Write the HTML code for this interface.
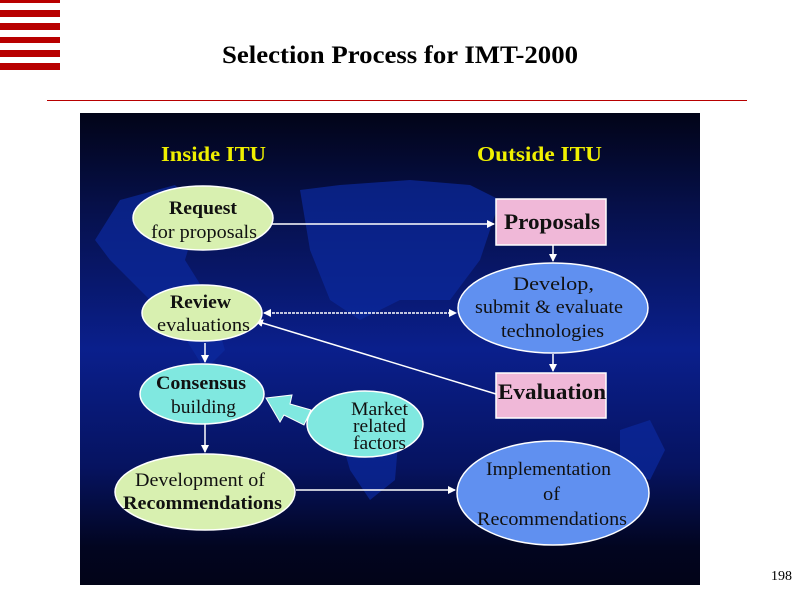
<!DOCTYPE html>
<html><head><style>
body{margin:0;width:800px;height:600px;background:#fff;position:relative;overflow:hidden;font-family:"Liberation Serif",serif}
</style></head><body>
<svg width="800" height="600" style="position:absolute;left:0;top:0" font-family="Liberation Serif, serif">
<defs>
<linearGradient id="bg" x1="0" y1="0" x2="0" y2="1">
<stop offset="0" stop-color="#020418"/>
<stop offset="0.2" stop-color="#06104a"/>
<stop offset="0.5" stop-color="#0a1f8c"/>
<stop offset="0.75" stop-color="#061360"/>
<stop offset="0.92" stop-color="#020520"/>
<stop offset="1" stop-color="#020418"/>
</linearGradient>
<marker id="ah" markerWidth="8" markerHeight="8" refX="7" refY="4" orient="auto" markerUnits="userSpaceOnUse">
<path d="M0,0 L8,4 L0,8 z" fill="#fff"/></marker>
<marker id="ahs" markerWidth="8" markerHeight="8" refX="1" refY="4" orient="auto" markerUnits="userSpaceOnUse">
<path d="M8,0 L0,4 L8,8 z" fill="#fff"/></marker>
</defs>
<g fill="#b80000">
<rect x="0" y="0" width="60" height="3"/><rect x="0" y="10" width="60" height="7"/>
<rect x="0" y="23" width="60" height="7"/><rect x="0" y="37" width="60" height="6"/>
<rect x="0" y="50" width="60" height="7"/><rect x="0" y="63" width="60" height="7"/>
</g>
<text x="222" y="63" font-size="25" font-weight="bold" textLength="356" lengthAdjust="spacingAndGlyphs">Selection Process for IMT-2000</text>
<rect x="47" y="100" width="700" height="1" fill="#b80000"/>
<text x="792" y="580" text-anchor="end" font-size="14">198</text>

<rect x="80" y="113" width="620" height="472" fill="url(#bg)"/>
<g fill="#0c2a9e" opacity="0.7">
<path d="M95,240 L120,200 L175,185 L200,210 L185,260 L210,300 L225,350 L205,370 L180,330 L150,300 L110,260 z"/>
<path d="M300,190 L340,185 L410,180 L470,185 L500,200 L480,260 L450,300 L400,300 L360,320 L330,300 L310,250 z"/>
<path d="M330,400 L370,390 L400,420 L395,480 L370,500 L350,470 z"/>
<path d="M620,430 L650,420 L665,450 L650,480 L620,470 z"/>
</g>
<text x="161" y="161" font-size="21" font-weight="bold" fill="#f0f000" textLength="105" lengthAdjust="spacingAndGlyphs">Inside ITU</text>
<text x="477" y="161" font-size="21" font-weight="bold" fill="#f0f000" textLength="125" lengthAdjust="spacingAndGlyphs">Outside ITU</text>

<g stroke="#fff" stroke-width="1.5" fill="none">
<line x1="272" y1="224" x2="494" y2="224" marker-end="url(#ah)"/>
<line x1="553" y1="245" x2="553" y2="261" marker-end="url(#ah)"/>
<line x1="264" y1="313" x2="456" y2="313" stroke-dasharray="3,1" marker-end="url(#ah)" marker-start="url(#ahs)"/>
<line x1="496" y1="394" x2="256" y2="321" marker-end="url(#ah)"/>
<line x1="553" y1="354" x2="553" y2="371" marker-end="url(#ah)"/>
<line x1="205" y1="343" x2="205" y2="362" marker-end="url(#ah)"/>
<line x1="205" y1="424" x2="205" y2="452" marker-end="url(#ah)"/>
<line x1="296" y1="490" x2="455" y2="490" marker-end="url(#ah)"/>
</g>
<polygon points="266,398 292,395 290,404 311,410 304,425 284,415 280,422" fill="#80e8e0" stroke="#fff" stroke-width="1"/>

<g stroke="#fff" stroke-width="1.5">
<ellipse cx="203" cy="218" rx="70" ry="32" fill="#d8f0b0"/>
<rect x="496" y="199" width="110" height="46" fill="#f0b8d8"/>
<ellipse cx="553" cy="308" rx="95" ry="45" fill="#6090f0"/>
<ellipse cx="202" cy="313" rx="60" ry="28" fill="#d8f0b0"/>
<rect x="496" y="373" width="110" height="45" fill="#f0b8d8"/>
<ellipse cx="202" cy="394" rx="62" ry="30" fill="#80e8e0"/>
<ellipse cx="365" cy="424" rx="58" ry="33" fill="#80e8e0"/>
<ellipse cx="205" cy="492" rx="90" ry="38" fill="#d8f0b0"/>
<ellipse cx="553" cy="493" rx="96" ry="52" fill="#6090f0"/>
</g>
<g fill="#111" font-size="19" lengthAdjust="spacingAndGlyphs">
<text x="169" y="214" font-weight="bold" textLength="68" lengthAdjust="spacingAndGlyphs">Request</text>
<text x="151" y="238" textLength="106" lengthAdjust="spacingAndGlyphs">for proposals</text>
<text x="504" y="229" font-weight="bold" font-size="22" textLength="96" lengthAdjust="spacingAndGlyphs">Proposals</text>
<text x="513" y="290" textLength="81" lengthAdjust="spacingAndGlyphs">Develop,</text>
<text x="475" y="313" textLength="148" lengthAdjust="spacingAndGlyphs">submit &amp; evaluate</text>
<text x="501" y="337" textLength="103" lengthAdjust="spacingAndGlyphs">technologies</text>
<text x="170" y="308" font-weight="bold" textLength="61" lengthAdjust="spacingAndGlyphs">Review</text>
<text x="157" y="331" textLength="93" lengthAdjust="spacingAndGlyphs">evaluations</text>
<text x="498" y="399" font-weight="bold" font-size="22" textLength="108" lengthAdjust="spacingAndGlyphs">Evaluation</text>
<text x="156" y="389" font-weight="bold" textLength="90" lengthAdjust="spacingAndGlyphs">Consensus</text>
<text x="171" y="413" textLength="65" lengthAdjust="spacingAndGlyphs">building</text>
<text x="351" y="415" textLength="57" lengthAdjust="spacingAndGlyphs">Market</text>
<text x="353" y="432" textLength="53" lengthAdjust="spacingAndGlyphs">related</text>
<text x="353" y="449" textLength="53" lengthAdjust="spacingAndGlyphs">factors</text>
<text x="135" y="486" textLength="130" lengthAdjust="spacingAndGlyphs">Development of</text>
<text x="123" y="509" font-weight="bold" textLength="159" lengthAdjust="spacingAndGlyphs">Recommendations</text>
<text x="486" y="475" textLength="125" lengthAdjust="spacingAndGlyphs">Implementation</text>
<text x="543" y="500" textLength="17" lengthAdjust="spacingAndGlyphs">of</text>
<text x="477" y="525" textLength="150" lengthAdjust="spacingAndGlyphs">Recommendations</text>
</g>
</svg>
</body></html>
